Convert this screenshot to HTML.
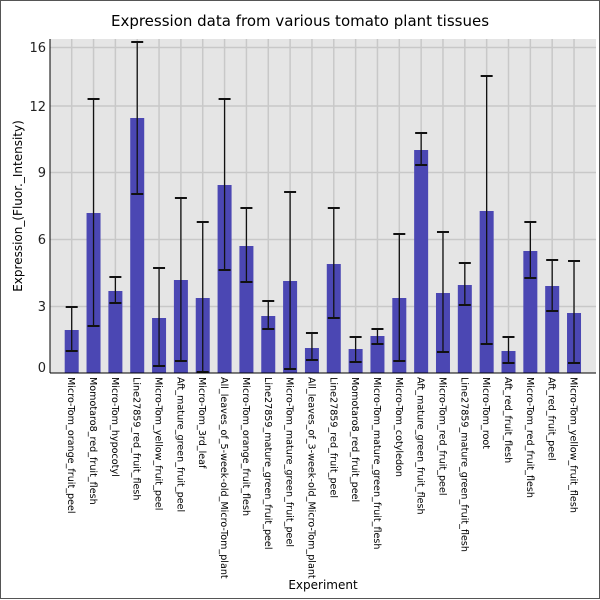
<!DOCTYPE html>
<html><head><meta charset="utf-8"><style>body{margin:0;background:#fff}svg{display:block}</style></head><body>
<svg width="600" height="600" xmlns="http://www.w3.org/2000/svg" font-family="DejaVu Sans, Liberation Sans, sans-serif">
<rect x="0.5" y="0.5" width="599" height="598" fill="#fff" stroke="#555"/>
<text x="300" y="26" font-size="15" text-anchor="middle">Expression data from various tomato plant tissues</text>
<rect x="50" y="39" width="546" height="334" fill="#e5e5e5"/>
<g stroke="#c8c8c8" stroke-width="1.5" id="grid"></g>
<g id="bars"></g>
<line x1="50" y1="39" x2="50" y2="373" stroke="#000"/>
<line x1="50" y1="373" x2="596" y2="373" stroke="#000"/>
<g font-size="13" text-anchor="end" fill="#222">
<text x="46" y="52">16</text><text x="46" y="111">12</text><text x="46" y="177">9</text><text x="46" y="244">6</text><text x="46" y="311">3</text><text x="46" y="372">0</text>
</g>
<text transform="translate(22,206) rotate(-90)" font-size="12" text-anchor="middle">Expression_(Fluor._Intensity)</text>
<text x="323" y="589" font-size="12" text-anchor="middle">Experiment</text>
<g id="labels" font-size="9.6"></g>
<script>
var tops=[330,213,291,118,318,280,298,185,246,316,281,348,264,349,336,298,150,293,285,211,351,251,286,313];
var eu=[307,99,277,42,268,198,222,99,208,301,192,333,208,337,329,234,133,232,263,76,337,222,260,261];
var el=[351,326,303,194,366,361,372,270,282,329,369,360,318,362,344,361,165,352,305,344,363,278,311,363];
var names=["Micro-Tom_orange_fruit_peel","Momotaro8_red_fruit_flesh","Micro-Tom_hypocotyl","Line27859_red_fruit_flesh","Micro-Tom_yellow_fruit_peel","Aft_mature_green_fruit_peel","Micro-Tom_3rd_leaf","All_leaves_of_5-week-old_Micro-Tom_plant","Micro-Tom_orange_fruit_flesh","Line27859_mature_green_fruit_peel","Micro-Tom_mature_green_fruit_peel","All_leaves_of_3-week-old_Micro-Tom_plant","Line27859_red_fruit_peel","Momotaro8_red_fruit_peel","Micro-Tom_mature_green_fruit_flesh","Micro-Tom_cotyledon","Aft_mature_green_fruit_flesh","Micro-Tom_red_fruit_peel","Line27859_mature_green_fruit_flesh","Micro-Tom_root","Aft_red_fruit_flesh","Micro-Tom_red_fruit_flesh","Aft_red_fruit_peel","Micro-Tom_yellow_fruit_flesh"];
var ns="http://www.w3.org/2000/svg",g=document.getElementById('grid'),b=document.getElementById('bars'),l=document.getElementById('labels');
function el_(t,a,p){var e=document.createElementNS(ns,t);for(var k in a)e.setAttribute(k,a[k]);p.appendChild(e);return e;}
[47.5,106,172.5,239.5,306.5].forEach(function(y){el_('line',{x1:50,x2:596,y1:y,y2:y},g);});
for(var i=0;i<24;i++){var x=71.7+i*21.84;
el_('line',{x1:x,x2:x,y1:39,y2:373},g);
el_('rect',{x:x-7,y:tops[i],width:14,height:373-tops[i],fill:'#4b47b3'},b);
el_('line',{x1:x,x2:x,y1:eu[i],y2:el[i],stroke:'#111','stroke-width':1.3},b);
el_('line',{x1:x-6,x2:x+6,y1:eu[i],y2:eu[i],stroke:'#111','stroke-width':2},b);
el_('line',{x1:x-6,x2:x+6,y1:el[i],y2:el[i],stroke:'#111','stroke-width':2},b);
var t=el_('text',{transform:'translate('+(x-3.5)+',377) rotate(90)'},l);t.textContent=names[i];}
</script>
</svg>
</body></html>
